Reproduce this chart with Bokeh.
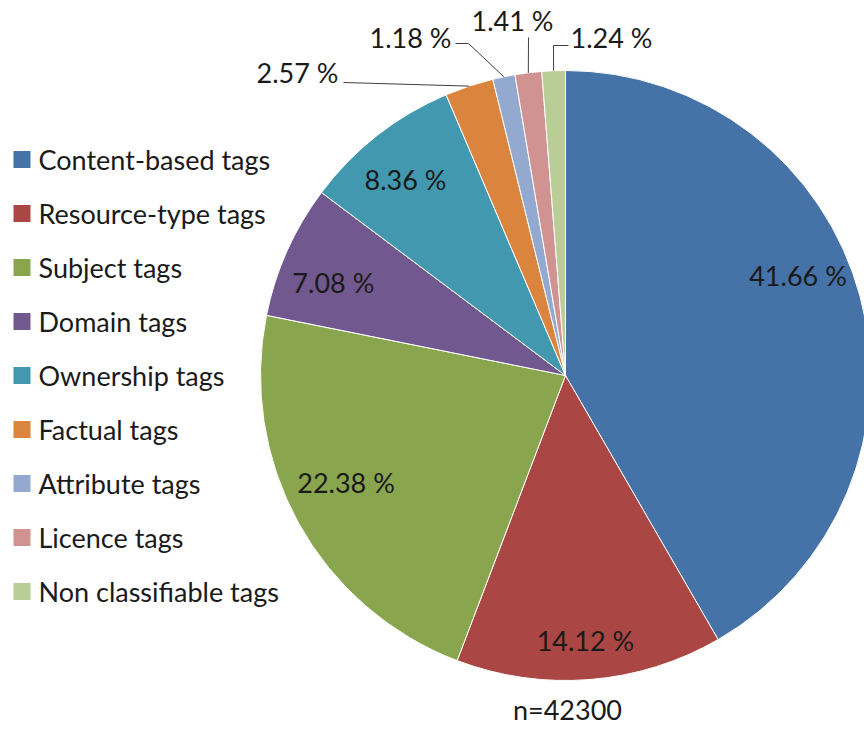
import numpy as np
from bokeh.plotting import figure
from bokeh.models import Range1d, ColumnDataSource
from bokeh.core.properties import value
from bokeh.embed import file_html
from bokeh.resources import INLINE

# ---------------- data ----------------
categories = ["Content-based tags", "Resource-type tags", "Subject tags", "Domain tags",
              "Ownership tags", "Factual tags", "Attribute tags", "Licence tags",
              "Non classifiable tags"]
shares = [41.66, 14.12, 22.38, 7.08, 8.36, 2.57, 1.18, 1.41, 1.24]
colors = ["#4572A7", "#AA4643", "#89A54E", "#71588F", "#4198AF",
          "#DB843D", "#93A9CF", "#D19392", "#B9CD96"]
sample_note = "n=42300"

# ---------------- layout (image pixel space) ----------------
IMG_H = 729
W, H = 864, 729
CX, CY_IMG, R = 565, 375, 305
FONT = "Lato"
FS = "27px"
TXT = "#1a1a1a"

def Y(y_img):
    return IMG_H - y_img

p = figure(width=W, height=H, output_backend="svg", toolbar_location=None,
           x_range=Range1d(0, W), y_range=Range1d(IMG_H - H, IMG_H),
           x_axis_type=None, y_axis_type=None, min_border=0,
           outline_line_color=None, background_fill_color="white")
p.grid.visible = False

vals = np.array(shares, dtype=float)
frac = vals / vals.sum()
cum_end = np.cumsum(frac)
cum_start = cum_end - frac
start_ang = np.pi / 2 - 2 * np.pi * cum_start
end_ang = np.pi / 2 - 2 * np.pi * cum_end
mid_deg = 360 * (cum_start + cum_end) / 2  # clockwise from 12 o'clock

src = ColumnDataSource(dict(start=start_ang, end=end_ang, color=colors))
p.wedge(x=CX, y=Y(CY_IMG), radius=R, start_angle="start", end_angle="end",
        direction="clock", fill_color="color", line_color="white", line_width=1,
        source=src)

labels = [f"{v:.2f} %" for v in shares]

# inside labels: radius fraction and small angular tweak (degrees)
inside_idx = [0, 1, 2, 3, 4]
r_frac = [0.83, 0.87, 0.80, 0.82, 0.83]
d_ang = [-8.3, 0.3, 3.0, -2.3, -1.1]
ix, iy, it = [], [], []
for k, i in enumerate(inside_idx):
    th = np.radians(mid_deg[i] + d_ang[k])
    r = R * r_frac[k]
    ix.append(CX + r * np.sin(th))
    iy.append(Y(CY_IMG) + r * np.cos(th))
    it.append(labels[i])
p.text(x=ix, y=iy, text=it, text_font=value(FONT), text_font_size=FS,
       text_color=TXT, text_align="center", text_baseline="middle")

# outside labels with leader lines
outside_idx = [5, 6, 7, 8]
label_pos = [(297, 72), (410, 37), (512, 20), (611, 37)]
elbows = [[(343, 82)], [(468, 43), (455, 43)], [(528, 37)], [(553, 45), (568, 45)]]
ox, oy, ot = [], [], []
lx, ly = [], []
for k, i in enumerate(outside_idx):
    th = np.radians(mid_deg[i])
    ex = CX + R * np.sin(th)
    ey = Y(CY_IMG) + R * np.cos(th)
    xs = [ex] + [e[0] for e in elbows[k]]
    ys = [ey] + [Y(e[1]) for e in elbows[k]]
    lx.append(xs)
    ly.append(ys)
    ox.append(label_pos[k][0])
    oy.append(Y(label_pos[k][1]))
    ot.append(labels[i])
p.multi_line(xs=lx, ys=ly, line_color="#404040", line_width=1)
p.text(x=ox, y=oy, text=ot, text_font=value(FONT), text_font_size=FS,
       text_color=TXT, text_align="center", text_baseline="middle")

# legend (manual)
leg_y = [Y(159 + 54 * i) for i in range(len(categories))]
p.rect(x=[21.5] * len(categories), y=leg_y, width=17, height=17,
       fill_color=colors, line_color=None)
p.text(x=[38] * len(categories), y=leg_y, text=categories, text_font=value(FONT),
       text_font_size=FS, text_color=TXT, text_align="left",
       text_baseline="middle")

# sample size note
p.text(x=[567], y=[Y(709)], text=[sample_note], text_font=value(FONT),
       text_font_size=FS, text_color=TXT, text_align="center",
       text_baseline="middle")

open("out.html", "w").write(file_html(p, INLINE))
